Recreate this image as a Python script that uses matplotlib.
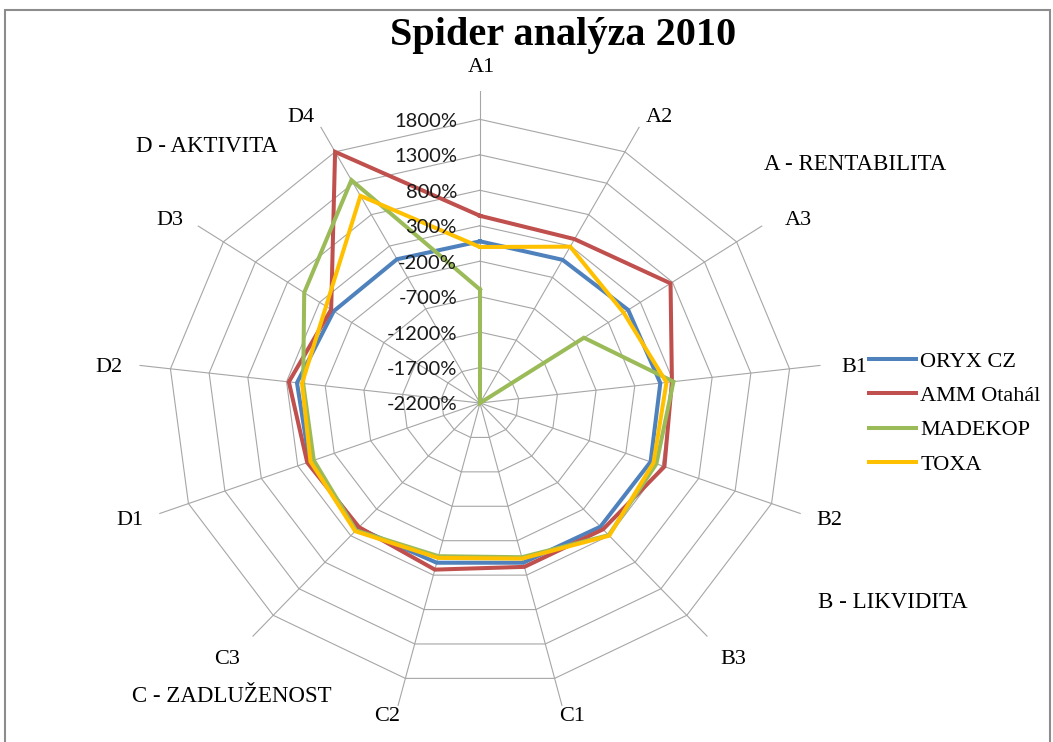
import numpy as np
import matplotlib
matplotlib.use("Agg")
import matplotlib.pyplot as plt
from matplotlib.lines import Line2D
from matplotlib.patches import Rectangle
from matplotlib.transforms import offset_copy

# data (values in %)
categories = ["A1", "A2", "A3", "B1", "B2", "B3", "C1", "C2", "C3", "D1", "D2", "D3", "D4"]
oryx = [80, 80, 110, 130, 140, 130, 120, 120, 160, 140, 165, 80, 90]
amm = [440, 410, 770, 280, 330, 180, 180, 220, 140, 170, 270, 120, 1800]
madekop = [-600, -2200, -580, 300, 220, 290, 40, 25, 200, 80, 85, 540, 1350]
toxa = [0, 290, 40, 210, 180, 300, 60, 50, 215, 126, 100, 200, 1100]
series_names = ["ORYX CZ", "AMM Otahál", "MADEKOP", "TOXA"]
colors = ["#4F81BD", "#C0504D", "#9BBB59", "#FFC000"]
ring_values = [-2200, -1700, -1200, -700, -200, 300, 800, 1300, 1800]
groups = ["A - RENTABILITA", "B - LIKVIDITA", "C - ZADLUŽENOST", "D - AKTIVITA"]

W, H = 1053, 742
serif = "Liberation Serif"
fig = plt.figure(figsize=(W / 100, H / 100), dpi=100)

# outer frame of the chart object
fig.patches.append(Rectangle((5 / W, -0.05), 1045 / W, 1.05 - 10 / H,
                             transform=fig.transFigure, fill=False,
                             edgecolor="#8c8c8c", linewidth=1.5))

# polar axes, stretched like the original (not square)
ax = fig.add_axes([137 / W, 1 - 715 / H, 686 / W, 624 / H], projection="polar")
ax.set_aspect("auto")
ax.set_theta_offset(np.pi / 2)
ax.set_theta_direction(-1)
ax.set_ylim(-2200, 2200)
ax.set_axis_off()

n = len(categories)
theta = np.arange(n) * 2 * np.pi / n
closed = np.append(theta, theta[0])

# polygon grid and spokes
for v in ring_values[1:]:
    ax.plot(closed, [v] * (n + 1), color="#a6a6a6", lw=0.8, zorder=1)
for t in theta:
    ax.plot([t, t], [-2200, 2200], color="#a6a6a6", lw=0.8, zorder=1)

# radial labels left of the A1 spoke
lab_tr = offset_copy(ax.transData, fig=fig, x=-23, y=-2, units="dots")
for v in ring_values:
    ax.text(0, v, f"{v}%", transform=lab_tr, ha="right", va="center",
            fontsize=14.5, family="Lato", color="#1a1a1a", zorder=6)

# series
for vals, name, c in zip([oryx, amm, madekop, toxa], series_names, colors):
    ax.plot(closed, vals + vals[:1], color=c, lw=2.9, label=name, zorder=3,
            solid_joinstyle="miter")

# category labels, offset (px) from the spoke ends like Excel places them
label_offsets = [(1, -24), (20, -9), (36, -5), (34, 2), (29, 7), (26, 23), (10, 11),
                 (-11, 11), (-25, 23), (-29, 7), (-31, 2), (-28, -5), (-20, -9)]
for t, lab, (dx, dy) in zip(theta, categories, label_offsets):
    ax.annotate(lab, xy=(t, 2200), xytext=(dx * 0.72, -dy * 0.72),
                textcoords="offset points", ha="center", va="center", fontsize=16,
                family=serif, annotation_clip=False)

# group labels
group_pos = [(855, 165), (893, 602), (232, 697), (207, 147)]
for g, (x, y) in zip(groups, group_pos):
    fig.text(x / W, 1 - y / H, g, ha="center", va="center", fontsize=16.5, family=serif)

fig.text(563 / W, 1 - 36 / H, "Spider analýza 2010", ha="center", va="center",
         fontsize=29, fontweight="bold", family=serif)

handles = [Line2D([], [], color=c, lw=2.9) for c in colors]
fig.legend(handles, series_names, loc="center left",
           bbox_to_anchor=(869 / W, 1 - 413 / H), frameon=False,
           prop={"family": serif, "size": 16}, handlelength=2.1,
           handletextpad=0.2, labelspacing=0.62, borderpad=0, borderaxespad=0)

fig.savefig("out.png", dpi=100)
